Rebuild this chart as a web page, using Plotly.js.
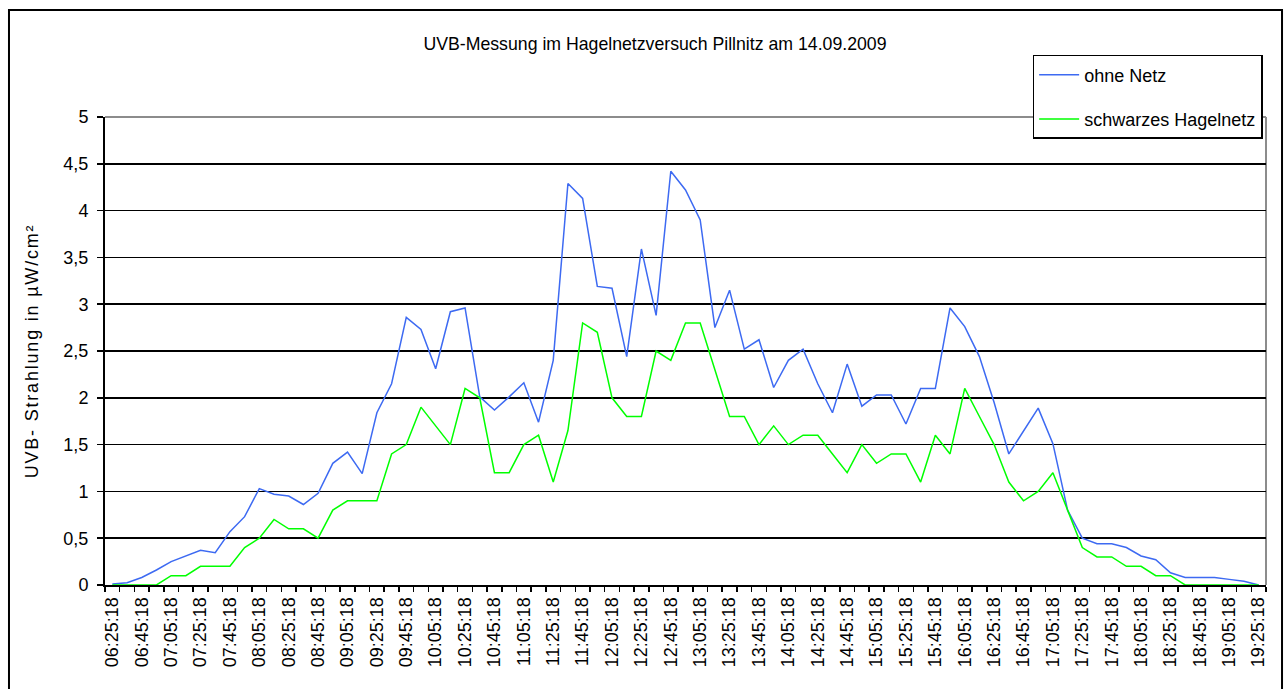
<!DOCTYPE html>
<html>
<head>
<meta charset="utf-8">
<script src="https://cdn.plot.ly/plotly-3.0.1.min.js"></script>
<style>
  html, body { margin: 0; padding: 0; background: #ffffff; }
  #chart { width: 1286px; height: 689px; }
  #chart .g-ytitle text { letter-spacing: 1.8px; }
</style>
</head>
<body>
<div id="chart"></div>
<script>
// Time categories (every 10 min)
const categories = [
  "06:25:18","06:35:18","06:45:18","06:55:18",
  "07:05:18","07:15:18","07:25:18","07:35:18","07:45:18","07:55:18",
  "08:05:18","08:15:18","08:25:18","08:35:18","08:45:18","08:55:18",
  "09:05:18","09:15:18","09:25:18","09:35:18","09:45:18","09:55:18",
  "10:05:18","10:15:18","10:25:18","10:35:18","10:45:18","10:55:18",
  "11:05:18","11:15:18","11:25:18","11:35:18","11:45:18","11:55:18",
  "12:05:18","12:15:18","12:25:18","12:35:18","12:45:18","12:55:18",
  "13:05:18","13:15:18","13:25:18","13:35:18","13:45:18","13:55:18",
  "14:05:18","14:15:18","14:25:18","14:35:18","14:45:18","14:55:18",
  "15:05:18","15:15:18","15:25:18","15:35:18","15:45:18","15:55:18",
  "16:05:18","16:15:18","16:25:18","16:35:18","16:45:18","16:55:18",
  "17:05:18","17:15:18","17:25:18","17:35:18","17:45:18","17:55:18",
  "18:05:18","18:15:18","18:25:18","18:35:18","18:45:18","18:55:18",
  "19:05:18","19:15:18","19:25:18"
];

const ohneNetz = [
  0.01,0.025,0.08,0.16,0.25,0.31,0.37,0.345,0.57,0.73,
  1.03,0.97,0.95,0.86,0.98,1.30,1.42,1.19,1.84,2.15,
  2.86,2.73,2.31,2.92,2.96,2.01,1.87,2.01,2.16,1.74,
  2.40,4.29,4.13,3.19,3.17,2.44,3.59,2.88,4.42,4.22,
  3.90,2.75,3.15,2.52,2.62,2.11,2.40,2.52,2.15,1.84,
  2.36,1.91,2.03,2.03,1.72,2.10,2.10,2.96,2.76,2.44,
  1.95,1.40,1.65,1.89,1.51,0.80,0.50,0.44,0.44,0.40,
  0.31,0.27,0.13,0.08,0.08,0.08,0.06,0.04,0.0
];

const schwarzesHagelnetz = [
  0,0,0,0,0.1,0.1,0.2,0.2,0.2,0.4,
  0.5,0.7,0.6,0.6,0.5,0.8,0.9,0.9,0.9,1.4,
  1.5,1.9,1.7,1.5,2.1,2.0,1.2,1.2,1.5,1.6,
  1.1,1.65,2.8,2.7,2.0,1.8,1.8,2.5,2.4,2.8,
  2.8,2.3,1.8,1.8,1.5,1.7,1.5,1.6,1.6,1.4,
  1.2,1.5,1.3,1.4,1.4,1.1,1.6,1.4,2.1,1.8,
  1.5,1.1,0.9,1.0,1.2,0.8,0.4,0.3,0.3,0.2,
  0.2,0.1,0.1,0,0,0,0,0,0
];

const seriesNames = ["ohne Netz", "schwarzes Hagelnetz"];
const titleText = "UVB-Messung im Hagelnetzversuch Pillnitz am 14.09.2009";
const yTitleText = "UVB- Strahlung in µW/cm²";

// every second category is labelled
const tickText = categories.map((c, i) => (i % 2 === 0 ? c : ""));

const FONT = "'Liberation Sans', Arial, sans-serif";

const traces = [
  {
    x: categories, y: ohneNetz, type: "scatter", mode: "lines",
    name: seriesNames[0], legendgroup: "a",
    line: { color: "#3d6af2", width: 1.5 }
  },
  {
    x: categories, y: schwarzesHagelnetz, type: "scatter", mode: "lines",
    name: seriesNames[1], legendgroup: "b",
    line: { color: "#00ff00", width: 1.5 }
  }
];

const layout = {
  width: 1286, height: 689,
  margin: { l: 105, r: 20, t: 117, b: 104 },
  paper_bgcolor: "#ffffff", plot_bgcolor: "#ffffff",
  separators: ",.",
  font: { family: FONT, color: "#000000" },
  showlegend: true,
  title: {
    text: titleText,
    font: { family: FONT, size: 17.7, color: "#000000" },
    xref: "paper", x: 0.4737, xanchor: "center",
    yref: "container", y: 0.936, yanchor: "middle"
  },
  xaxis: {
    type: "category",
    range: [-0.5, 78.5],
    tickmode: "array",
    tickvals: categories,
    ticktext: tickText,
    tickson: "boundaries",
    ticks: "outside", ticklen: 5, tickwidth: 1.5, tickcolor: "#000000",
    tickangle: -90,
    ticklabelstandoff: 3,
    tickfont: { family: FONT, size: 18, color: "#000000" },
    showline: true, linecolor: "#000000", linewidth: 2,
    showgrid: false, zeroline: false, fixedrange: true
  },
  yaxis: {
    range: [0, 5],
    tick0: 0, dtick: 0.5,
    ticks: "outside", ticklen: 6, tickwidth: 1.5, tickcolor: "#000000",
    ticklabelstandoff: 5,
    tickfont: { family: FONT, size: 18, color: "#000000" },
    showline: true, linecolor: "#000000", linewidth: 2,
    showgrid: true, gridcolor: "#000000", gridwidth: 1.6,
    zeroline: false, fixedrange: true,
    title: {
      text: yTitleText,
      font: { family: FONT, size: 18, color: "#000000" },
      standoff: 20
    }
  },
  legend: {
    x: 0.799, y: 1.1325, xanchor: "left", yanchor: "top",
    xref: "paper", yref: "paper",
    bgcolor: "#ffffff", bordercolor: "#000000", borderwidth: 1.5,
    font: { family: FONT, size: 18, color: "#000000" },
    itemwidth: 40,
    tracegroupgap: 18,
    traceorder: "grouped"
  },
  shapes: [
    // plot-area border (top and right) in grey
    { type: "line", xref: "paper", yref: "paper", x0: 0, x1: 1, y0: 1, y1: 1,
      line: { color: "#8c8c8c", width: 2 }, layer: "between" },
    { type: "line", xref: "paper", yref: "paper", x0: 1, x1: 1, y0: 0, y1: 1,
      line: { color: "#8c8c8c", width: 2 }, layer: "between" },
    // outer chart frame
    { type: "rect", xref: "paper", yref: "paper",
      x0: -0.0827, x1: 1.0138, y0: -0.26, y1: 1.2286,
      line: { color: "#000000", width: 2 }, fillcolor: "rgba(0,0,0,0)", layer: "below" }
  ]
};

Plotly.newPlot("chart", traces, layout, { displayModeBar: false, staticPlot: true });
</script>
</body>
</html>
